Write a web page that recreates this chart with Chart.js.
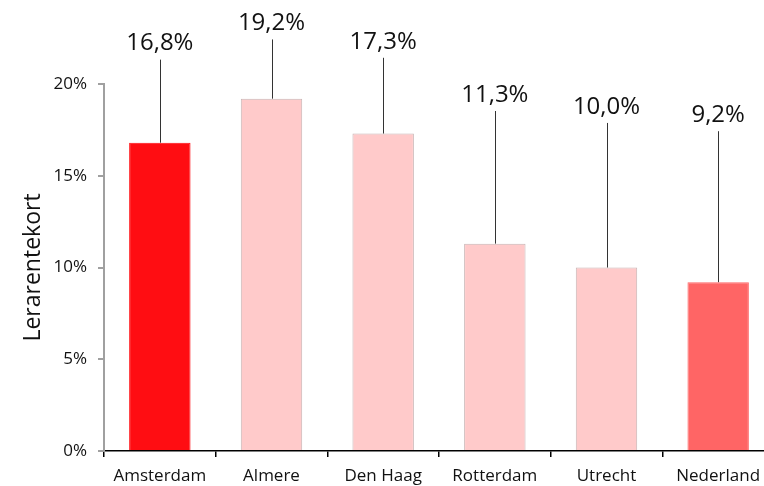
<!DOCTYPE html>
<html>
<head>
<meta charset="utf-8">
<script src="https://cdn.jsdelivr.net/npm/chart.js@4"></script>
<style>
  html, body { margin: 0; padding: 0; background: #fff; overflow: hidden; }
  #wrap { width: 774px; height: 486px; }
</style>
</head>
<body>
<div id="wrap"><canvas id="chart" width="774" height="486"></canvas></div>
<script>
const cities = ['Amsterdam', 'Almere', 'Den Haag', 'Rotterdam', 'Utrecht', 'Nederland'];
const shortage = [16.8, 19.2, 17.3, 11.3, 10.0, 9.2];
const labelLevel = [22.2, 23.3, 22.3, 19.4, 18.75, 18.3]; // where the value text sits
const yTicks = [0, 5, 10, 15, 20];

const barColors = ['#ff0d12', '#ffcaca', '#ffcaca', '#ffcaca', '#ffcaca', '#ff6565'];
const barBorders = ['#ff0d12', '#c8b4b4', '#c8b4b4', '#c8b4b4', '#c8b4b4', '#ff6565'];

const fmt = v => v.toFixed(1).replace('.', ',') + '%';

// value labels above the bars, with a thin leader line down to the bar
const leaderLabels = {
    id: 'leaderLabels',
    afterDatasetsDraw(chart) {
        const c = chart.ctx;
        const y = chart.scales.y;
        const meta = chart.getDatasetMeta(0);
        c.save();
        meta.data.forEach((bar, i) => {
            const textY = y.getPixelForValue(labelLevel[i]);
            c.strokeStyle = '#333';
            c.lineWidth = 1;
            c.beginPath();
            c.moveTo(Math.round(bar.x) + 0.5, textY + 16);
            c.lineTo(Math.round(bar.x) + 0.5, bar.y);
            c.stroke();
            c.fillStyle = '#111';
            c.font = '24px "Open Sans"';
            c.textAlign = 'center';
            c.textBaseline = 'middle';
            c.fillText(fmt(shortage[i]), bar.x, textY);
        });
        c.restore();
    }
};

new Chart(document.getElementById('chart'), {
    type: 'bar',
    data: {
        labels: cities,
        datasets: [{
            data: shortage,
            backgroundColor: barColors,
            borderColor: barBorders,
            borderWidth: 1,
            barPercentage: 0.55,
            categoryPercentage: 1
        }]
    },
    options: {
        responsive: false,
        animation: false,
        layout: { padding: { top: 84, right: 0, bottom: 0, left: 0 } },
        plugins: {
            legend: { display: false },
            tooltip: { enabled: false }
        },
        scales: {
            x: {
                afterFit: s => { s.height = 35; },
                grid: { offset: true, drawOnChartArea: false, drawTicks: true, tickLength: 6, color: '#000', lineWidth: 1.5 },
                border: { display: true, color: '#000', width: 1.5 },
                ticks: { color: '#111', padding: 9, font: { family: 'Open Sans', size: 17 } }
            },
            y: {
                min: 0,
                max: 20,
                afterFit: s => { s.width = 104; },
                afterBuildTicks: s => { s.ticks = yTicks.map(v => ({ value: v })); },
                grid: { drawOnChartArea: false, drawTicks: true, tickLength: 6, color: '#a0a0a0', lineWidth: 2 },
                border: { display: true, color: '#a0a0a0', width: 2 },
                ticks: {
                    color: '#111',
                    padding: 11,
                    font: { family: 'Open Sans', size: 17 },
                    callback: v => v + '%'
                },
                title: {
                    display: true,
                    text: 'Lerarentekort',
                    color: '#111',
                    font: { family: 'Open Sans', size: 23 },
                    padding: { top: 20, bottom: 0 }
                }
            }
        }
    },
    plugins: [leaderLabels]
});
</script>
</body>
</html>
